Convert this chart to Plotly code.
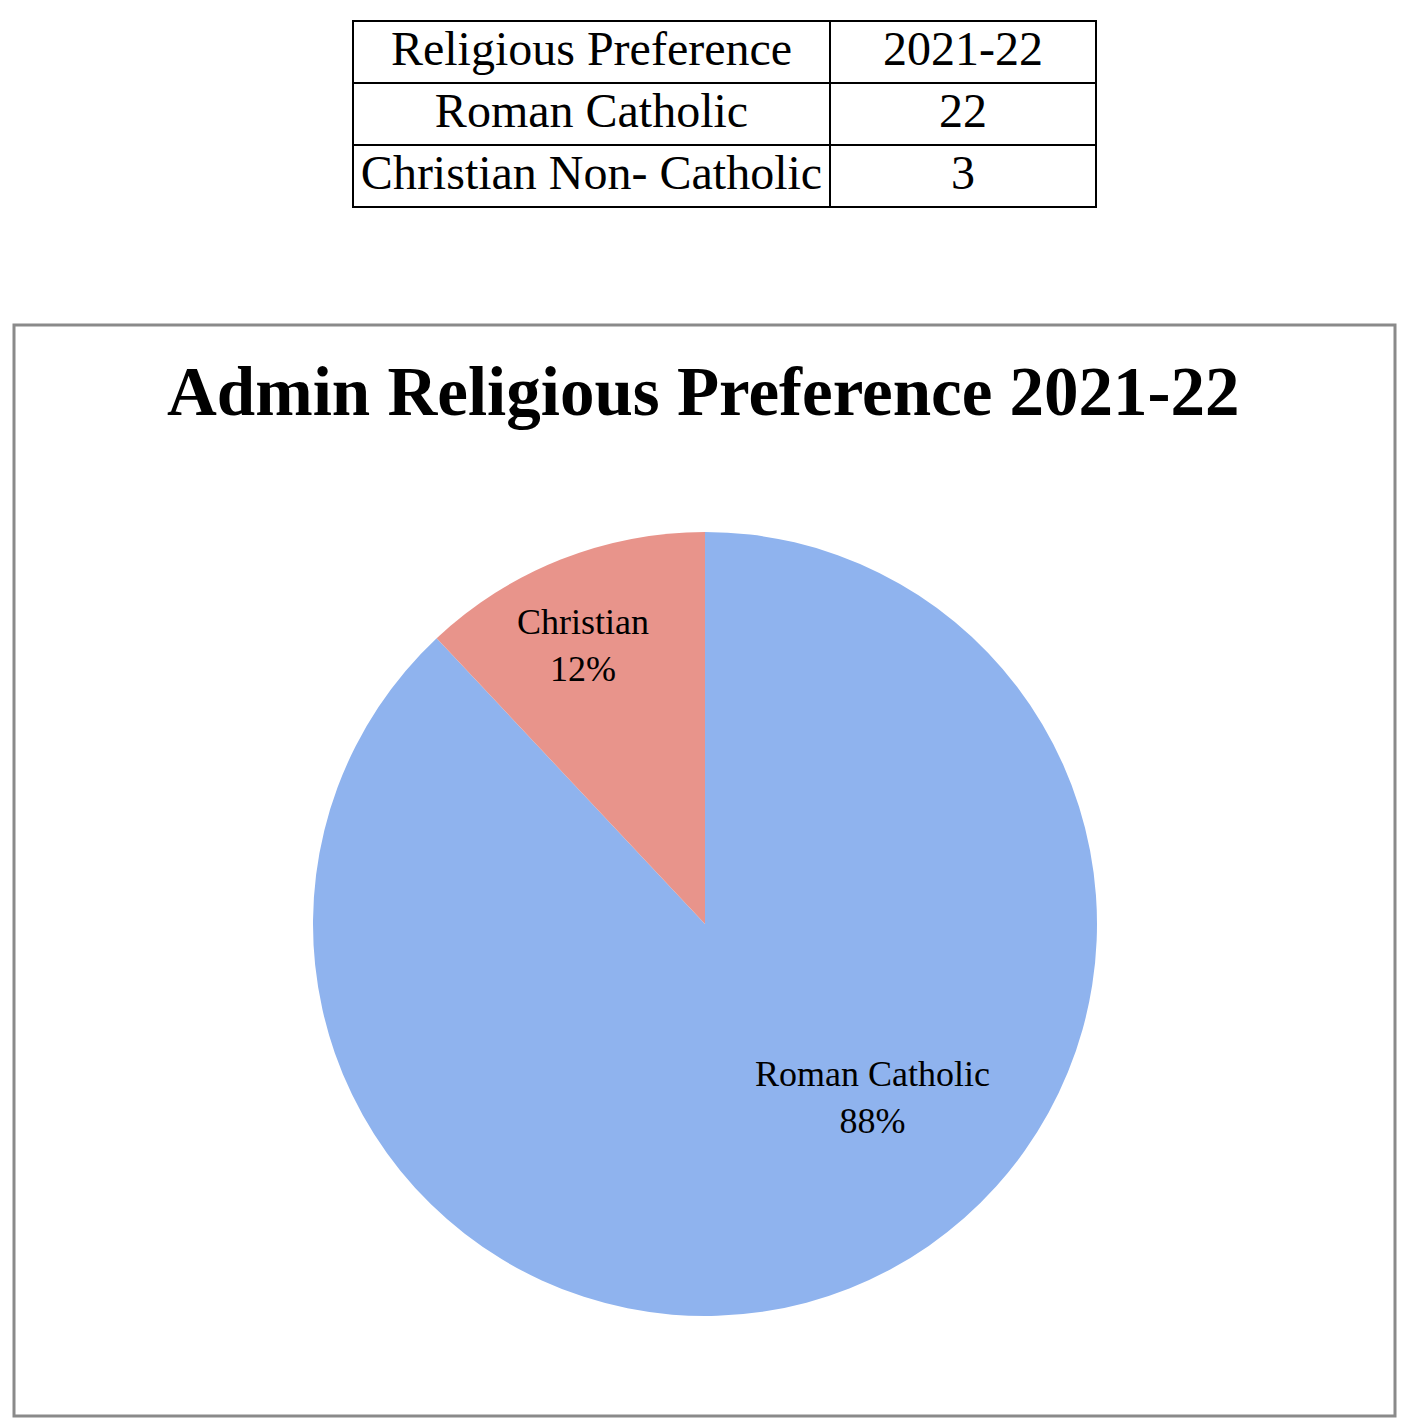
import plotly.graph_objects as go

# ---- data ----
table_header = ["Religious Preference", "2021-22"]
categories = ["Roman Catholic", "Christian Non- Catholic"]
short_labels = ["Roman Catholic", "Christian"]
values = [22, 3]
title_text = "Admin Religious Preference 2021-22"

W = H = 1426
OFF = 8  # page body margin


def px(x):
    return (x - OFF) / W


def py(y):
    return 1 - (y - OFF) / H


def nowrap(s):
    return s.replace(" ", "\u00a0")


total = sum(values)
pcts = [v / total * 100 for v in values]

fig = go.Figure()

# table
fig.add_trace(go.Table(
    domain=dict(x=[px(353), px(1096)], y=[py(300), py(21)]),
    columnwidth=[477, 266],
    header=dict(
        values=[nowrap(h) for h in table_header],
        align="center",
        height=62,
        fill_color="white",
        line=dict(color="black", width=2),
        font=dict(family="Liberation Serif", size=48, color="black"),
    ),
    cells=dict(
        values=[[nowrap(c) for c in categories], [str(v) for v in values]],
        align="center",
        height=62,
        fill_color="white",
        line=dict(color="black", width=2),
        font=dict(family="Liberation Serif", size=48, color="black"),
    ),
))

# pie
fig.add_trace(go.Pie(
    labels=short_labels,
    values=values,
    sort=False,
    direction="clockwise",
    rotation=0,
    textinfo="none",
    hoverinfo="label+percent",
    marker=dict(colors=["#8fb3ee", "#e8948b"], line=dict(width=0)),
    domain=dict(x=[px(313), px(1097)], y=[py(1316), py(532)]),
    showlegend=False,
))

# slice labels
label_pos = [(px(872), py(1097)), (px(583), py(645))]
for (lx, ly), lab, p in zip(label_pos, short_labels, pcts):
    fig.add_annotation(
        x=lx, y=ly, xref="paper", yref="paper",
        text=f"{lab}<br>{p:.0f}%", showarrow=False,
        xanchor="center", yanchor="middle", align="center",
        font=dict(family="Liberation Serif", size=36, color="black"),
    )

# title
fig.add_annotation(
    x=px(703), y=py(392), xref="paper", yref="paper",
    text=f"<b>{title_text}</b>", showarrow=False,
    xanchor="center", yanchor="middle",
    font=dict(family="Liberation Serif", size=69, color="black"),
)

# chart frame
fig.add_shape(
    type="rect", xref="paper", yref="paper",
    x0=px(14), x1=px(1395), y0=py(1416), y1=py(325),
    line=dict(color="#8a8a8a", width=3), fillcolor="rgba(0,0,0,0)", layer="below",
)

fig.update_layout(
    width=W, height=H,
    margin=dict(l=0, r=0, t=0, b=0),
    paper_bgcolor="white", plot_bgcolor="white",
)

fig.write_html("out.html")
